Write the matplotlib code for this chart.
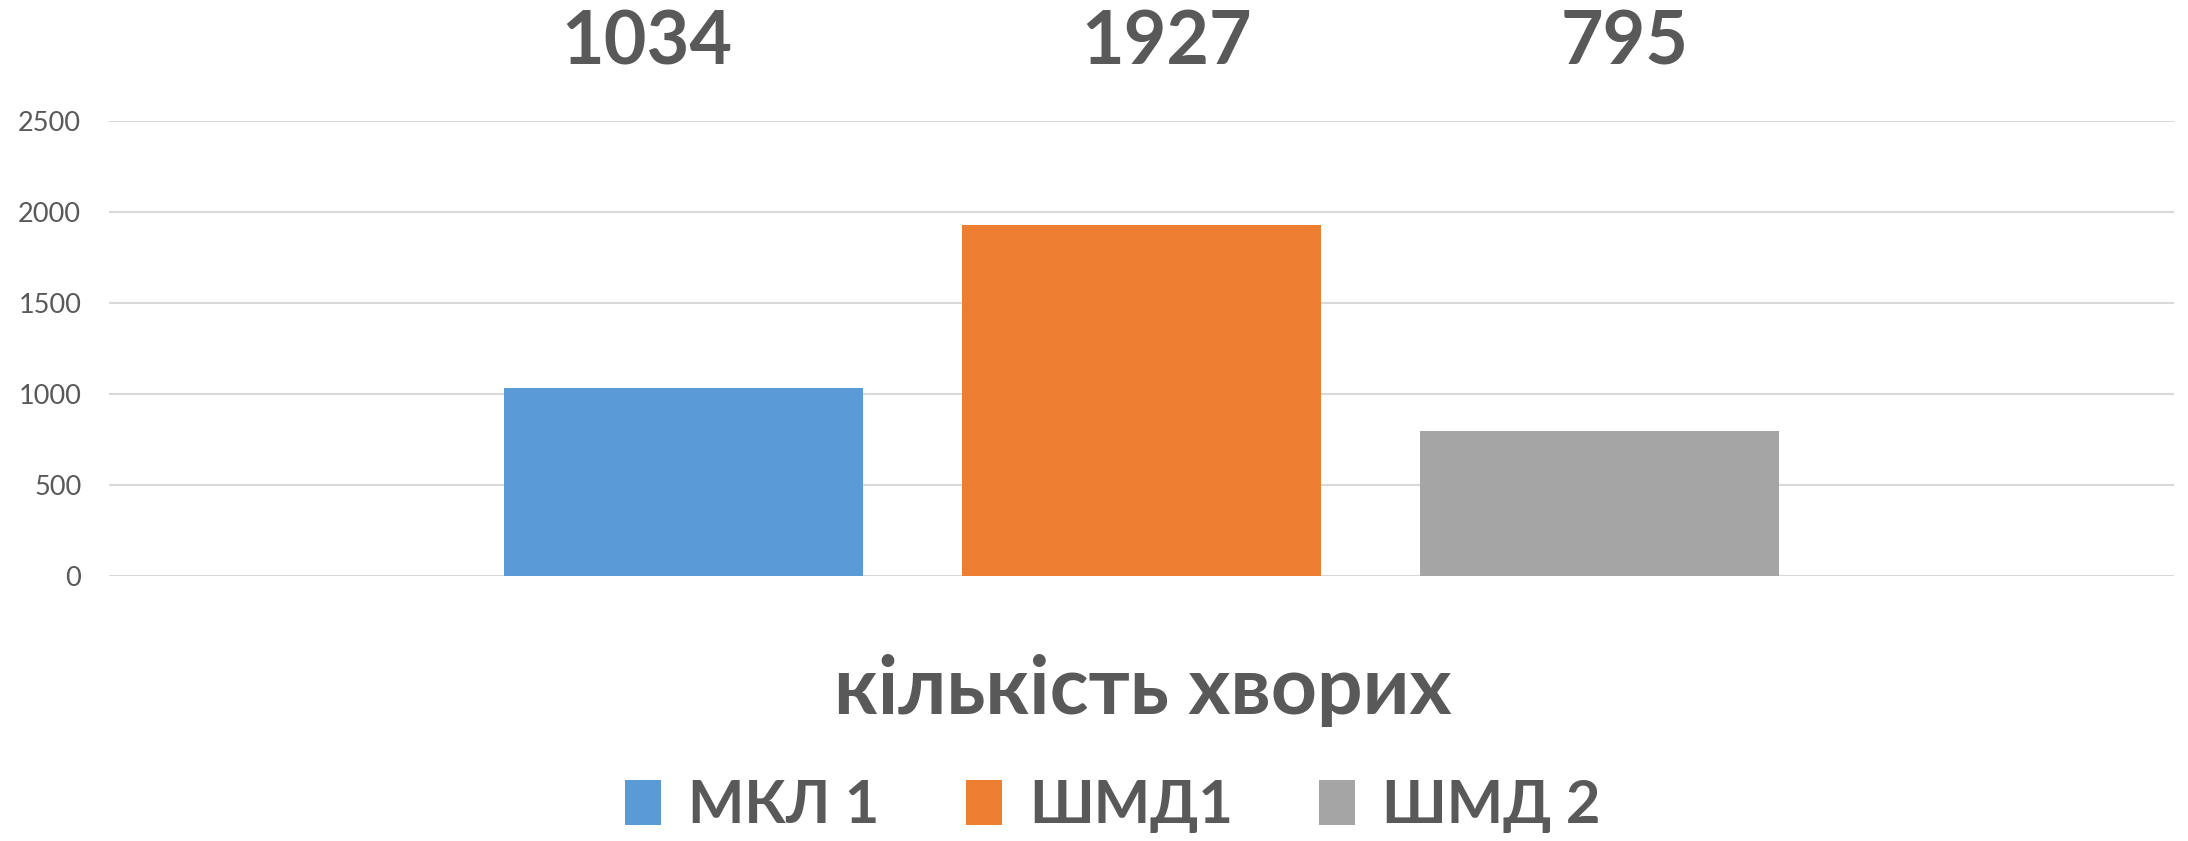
import matplotlib
matplotlib.use("Agg")
import matplotlib.pyplot as plt
from matplotlib.patches import Patch

series = ["МКЛ 1", "ШМД1", "ШМД 2"]
values = [1034, 1927, 795]
colors = ["#5B9BD5", "#ED7D31", "#A5A5A5"]
yticks = [0, 500, 1000, 1500, 2000, 2500]
axis_title = "кількість хворих"

TXT = "#595959"
FONT = ["Lato", "Open Sans", "DejaVu Sans"]
plt.rcParams["font.family"] = FONT

fig = plt.figure(figsize=(21.88, 8.41), dpi=100)
ax = fig.add_axes([109 / 2188, 1 - 576 / 841, (2174 - 109) / 2188, (576 - 121) / 841])

step = 0.2218
width = 0.1743
xs = [(i - 1) * step for i in range(len(values))]
bars = ax.bar(xs, values, width=width, color=colors, zorder=3)

ax.set_xlim(-0.5, 0.5)
ax.set_ylim(0, 2500)
ax.set_yticks(yticks)
ax.set_yticklabels([str(t) for t in yticks])
ax.set_xticks([])
ax.grid(axis="y", color="#D9D9D9", linewidth=1.5, zorder=0)
for s in ax.spines.values():
    s.set_visible(False)
ax.tick_params(axis="y", length=0, pad=20, labelsize=19.5, labelcolor=TXT)

# value labels placed above the plot area
label_dx = [-37, 25, 25]
for x, v, dx in zip(xs, values, label_dx):
    ax.annotate(str(v), xy=(x, 1.0), xycoords=("data", "axes fraction"),
                xytext=(dx, 78), textcoords="offset pixels",
                ha="center", va="center", fontsize=53, fontweight="bold", color=TXT)

fig.text(0.5225, 1 - 691 / 841, axis_title, ha="center", va="center",
         fontsize=58, fontweight="bold", color=TXT)

handles = [Patch(facecolor=c, edgecolor="none") for c in colors]
leg = fig.legend(handles, series, loc="center", bbox_to_anchor=(1113 / 2188, 1 - 806 / 841),
                 ncol=3, frameon=False, handlelength=0.6, handleheight=0.78,
                 handletextpad=0.45, columnspacing=1.45,
                 prop={"size": 43, "weight": "bold", "family": FONT})
for t in leg.get_texts():
    t.set_color(TXT)

fig.savefig("out.png", dpi=100, facecolor="white")
